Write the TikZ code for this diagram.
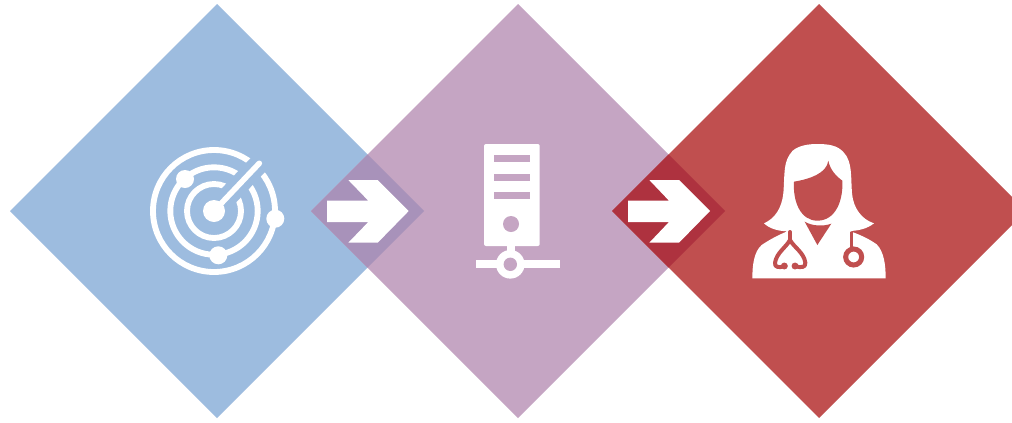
\documentclass[tikz,border=0pt]{standalone}
\definecolor{bluebg}{HTML}{9DBCDF}
\definecolor{purplebg}{HTML}{C5A5C3}
\definecolor{redbg}{HTML}{C04F4F}
\definecolor{overlapa}{HTML}{A892BA}
\definecolor{overlapb}{HTML}{AE323F}
\tikzset{
  icon/.style={fill=white,draw=none},
  ringline/.style={draw=white,line width=4.4pt},
  redline/.style={draw=redbg,line width=3pt,line cap=round,line join=round},
}
\begin{document}
\begin{tikzpicture}[x=0.75pt,y=-0.75pt]
\useasboundingbox (0,0) rectangle (1012,422);
\fill[white] (0,0) rectangle (1012,422);
\begin{scope}
\clip (0,0) rectangle (1012,422);
% diamonds
\fill[bluebg] (10,211) -- (217,4) -- (424,211) -- (217,418) -- cycle;
\fill[purplebg] (311,211) -- (518,4) -- (725,211) -- (518,418) -- cycle;
\fill[redbg] (612,211) -- (819,4) -- (1026,211) -- (819,418) -- cycle;
\fill[overlapa] (311,211) -- (367.5,154.5) -- (424,211) -- (367.5,267.5) -- cycle;
\fill[overlapb] (612,211) -- (668.5,154.5) -- (725,211) -- (668.5,267.5) -- cycle;
\end{scope}
% arrows
\fill[icon] (327,200.7) -- (368.3,200.7) -- (348.3,180) -- (377.7,180) -- (408.7,211) -- (377.7,242.7) -- (348.3,242.7) -- (368.3,222) -- (327,222) -- cycle;
\fill[icon] (628,200.7) -- (669,200.7) -- (649.3,180) -- (679,180) -- (710,211) -- (679,242.7) -- (649.3,242.7) -- (669,222) -- (628,222) -- cycle;
% radar
\draw[ringline] (214,211) circle[radius=61*0.75pt];
\draw[ringline] (214,211) circle[radius=43.7*0.75pt];
\draw[ringline] (214,211) circle[radius=27*0.75pt];
\draw[bluebg,line width=15pt] (214,211) -- (266,156.5);
\draw[white,line width=4.2pt,line cap=round] (214,211) -- (259.3,163.3);
\fill[icon] (214,211) circle[radius=11*0.75pt];
\fill[icon] (185,179) circle[radius=9*0.75pt];
\fill[icon] (275.3,218.7) circle[radius=9*0.75pt];
\fill[icon] (218.3,255.3) circle[radius=9*0.75pt];
% server
\fill[icon,rounded corners=1.5pt] (484,144) rectangle (539.7,246);
\fill[purplebg] (494,155.3) rectangle (530,162);
\fill[purplebg] (494,174) rectangle (530,180.7);
\fill[purplebg] (494,192.3) rectangle (530,199);
\fill[purplebg] (511,224) circle[radius=8*0.75pt];
\fill[icon] (506.7,245) rectangle (515,255);
\fill[icon] (475.7,260.3) rectangle (560,268);
\fill[icon] (510.3,264.3) circle[radius=14.3*0.75pt];
\fill[purplebg] (510.3,264.3) circle[radius=6.7*0.75pt];
% doctor
\begin{scope}[shift={(730,130)},x=0.25pt,y=-0.25pt]
\fill[icon] (102,280) .. controls (135,265) and (155,235) .. (160,190)
  .. controls (165,130) and (158,95) .. (188,62)
  .. controls (208,46) and (235,42) .. (262,42)
  .. controls (295,42) and (322,46) .. (340,66)
  .. controls (368,95) and (362,140) .. (366,190)
  .. controls (370,235) and (395,268) .. (432,280)
  .. controls (410,297) and (385,302) .. (358,303)
  .. controls (385,312) and (415,325) .. (440,343)
  .. controls (462,365) and (467,405) .. (467,445)
  -- (67,445)
  .. controls (67,405) and (72,365) .. (95,345)
  .. controls (120,328) and (145,315) .. (172,304)
  .. controls (145,303) and (120,297) .. (102,280) -- cycle;
% face
\fill[redbg] (192,155) .. controls (240,147) and (290,130) .. (295,92)
  .. controls (300,120) and (320,140) .. (337,152)
  .. controls (340,215) and (315,272) .. (262,272)
  .. controls (212,272) and (188,215) .. (192,155) -- cycle;
% collar
\fill[redbg] (224,275) .. controls (245,288) and (280,290) .. (304,281) -- (262,345) -- cycle;
% stethoscope
\draw[redline] (180,306) -- (180,330);
\draw[redline] (163,408) .. controls (148,414) and (133,413) .. (135,398)
  .. controls (140,368) and (168,352) .. (180,330)
  .. controls (192,352) and (222,368) .. (226,398)
  .. controls (228,413) and (212,414) .. (195,408);
\fill[redbg] (163,408) circle[radius=2.6pt];
\fill[redbg] (195,408) circle[radius=2.6pt];
\draw[redbg,line width=2.4pt] (365,306) -- (365,352);
\draw[redbg,line width=3.75pt] (371,381) circle[radius=6pt];
\end{scope}
\end{tikzpicture}
\end{document}
